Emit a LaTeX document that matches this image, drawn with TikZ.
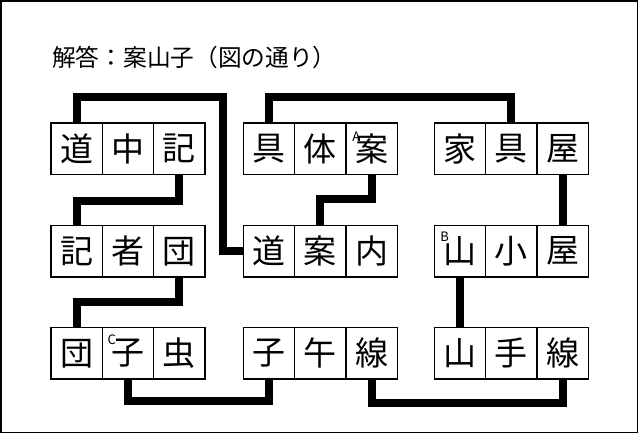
\documentclass[tikz,border=0pt]{standalone}
\usepackage{fontspec}
\newfontfamily\jp{Noto Sans CJK JP}

\begin{document}
\begin{tikzpicture}[x=1pt,y=-1pt,
	cell/.style={shape=rectangle,draw,line width=1.2pt,minimum size=51.3pt,inner sep=0pt,font=\jp\fontsize{33pt}{33pt}\selectfont},
	tag/.style={inner sep=0pt,font=\jp\fontsize{13pt}{13pt}\selectfont},
	link/.style={line width=8pt,line join=miter}]
	\useasboundingbox (0,0) rectangle (640,435);
	\draw[line width=1.5pt] (1,1) rectangle (637.5,432.5);
	\node (title) [anchor=west,inner sep=0pt,font=\jp\fontsize{23.7pt}{23.7pt}\selectfont] at (52,57) {解答：案山子（図の通り）};
	% row 1
	\path (76.7,148.7) node (dc1) [cell] {道}
		  (128,148.7) node (dc2) [cell] {中}
		  (179.3,148.7) node (dc3) [cell] {記}
		  (269,148.7) node (gt1) [cell] {具}
		  (320.3,148.7) node (gt2) [cell] {体}
		  (371.6,148.7) node (gt3) [cell] {案}
		  (460,148.7) node (kg1) [cell] {家}
		  (511.3,148.7) node (kg2) [cell] {具}
		  (562.6,148.7) node (kg3) [cell] {屋};
	% row 2
	\path (76.7,251.3) node (ks1) [cell] {記}
		  (128,251.3) node (ks2) [cell] {者}
		  (179.3,251.3) node (ks3) [cell] {団}
		  (269,251.3) node (an1) [cell] {道}
		  (320.3,251.3) node (an2) [cell] {案}
		  (371.6,251.3) node (an3) [cell] {内}
		  (460,251.3) node (ky1) [cell] {山}
		  (511.3,251.3) node (ky2) [cell] {小}
		  (562.6,251.3) node (ky3) [cell] {屋};
	% row 3
	\path (76.7,353.3) node (dg1) [cell] {団}
		  (128,353.3) node (dg2) [cell] {子}
		  (179.3,353.3) node (dg3) [cell] {虫}
		  (269,353.3) node (sg1) [cell] {子}
		  (320.3,353.3) node (sg2) [cell] {午}
		  (371.6,353.3) node (sg3) [cell] {線}
		  (460,353.3) node (ym1) [cell] {山}
		  (511.3,353.3) node (ym2) [cell] {手}
		  (562.6,353.3) node (ym3) [cell] {線};
	\node (tagA) [tag] at ([shift={(11,14)}]gt3.north west) {A};
	\node (tagB) [tag] at ([shift={(11,12)}]ky1.north west) {B};
	\node (tagC) [tag] at ([shift={(10,13)}]dg2.north west) {C};
	\draw[link] (dc1.north) -- ++(0,-25) -| ([xshift=-19.3pt]an1.west) -- (an1.west);
	\draw[link] (gt1.north) -- ++(0,-25) -| (kg2.north);
	\draw[link] (dc3.south) -- ++(0,26) -| (ks1.north);
	\draw[link] (ks3.south) -- ++(0,24) -| (dg1.north);
	\draw[link] (dg2.south) -- ++(0,21) -| (sg1.south);
	\draw[link] (gt3.south) -- ++(0,24) -| (an2.north);
	\draw[link] (kg3.south) -- (ky3.north);
	\draw[link] (ky1.south) -- (ym1.north);
	\draw[link] (sg3.south) -- ++(0,23) -| (ym3.south);
\end{tikzpicture}
\end{document}
